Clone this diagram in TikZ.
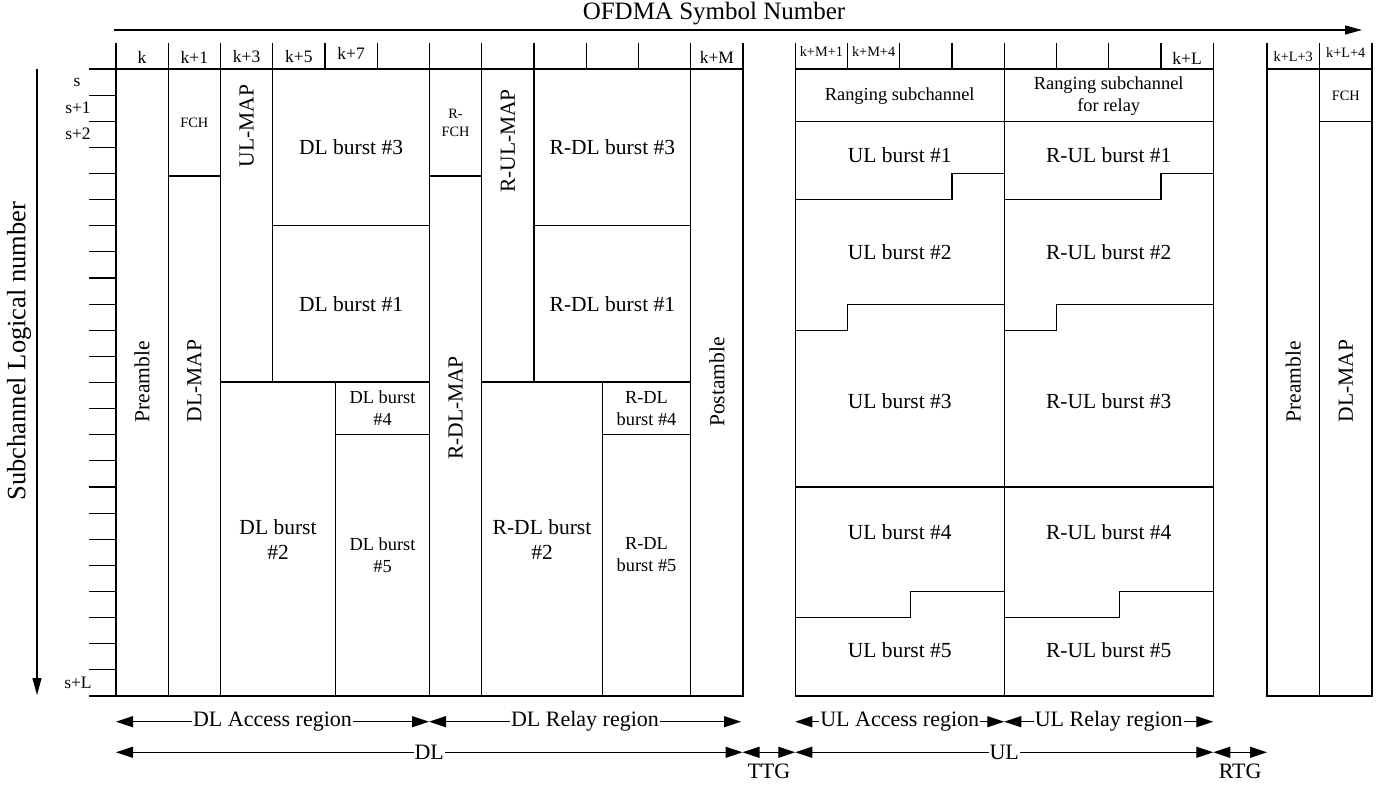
\documentclass[tikz,border=0pt]{standalone}
\usepackage{fontspec}
\setmainfont{Liberation Serif}
\usetikzlibrary{arrows.meta}
\begin{document}
\begin{tikzpicture}[x=1pt,y=-1pt, line width=1.2pt,
  big/.style={font=\fontsize{21.5}{25}\selectfont, align=center, inner sep=0pt},
  mid/.style={font=\fontsize{18.4}{22}\selectfont, align=center, inner sep=0pt},
  hdr/.style={font=\fontsize{17.5}{20}\selectfont, inner sep=0pt},
  tiny/.style={font=\fontsize{14.3}{18}\selectfont, align=center, inner sep=0pt},
  vert/.style={big, rotate=90},
  dimarrow/.style={{Triangle[length=17pt,width=11pt]}-{Triangle[length=17pt,width=11pt]}},
  lab/.style={font=\fontsize{22}{25}\selectfont, fill=white, inner xsep=1pt, inner ysep=0pt},
  axisarrow/.style={-{Triangle[length=17pt,width=9pt]}},
]
\useasboundingbox (0,0) rectangle (1378,786);

% ---------- axes ----------
\coordinate (ox0) at (114,30);
\coordinate (ox1) at (1362,30);
\draw[axisarrow] (ox0) -- (ox1);
\node[font=\fontsize{25}{28}\selectfont, inner sep=0pt] (otitle) at (714,14) {OFDMA Symbol Number};

\coordinate (oy0) at (37,69);
\coordinate (oy1) at (37,695);
\draw[axisarrow] (oy0) -- (oy1);
\node[font=\fontsize{26.5}{30}\selectfont, rotate=90, inner sep=0pt] (ytitle) at (19,351) {Subchannel Logical number};

% row ticks
\foreach \i in {0,...,24}{
  \draw (89,69+\i*26.125) -- (116,69+\i*26.125);
}
\node[hdr] (rs)  at (77,82)  {s};
\node[hdr] (rs1) at (78,108) {s+1};
\node[hdr] (rs2) at (78,134) {s+2};
\node[hdr] (rsl) at (78,683) {s+L};

% ---------- header ticks ----------
\foreach \x in {116,168.25,220.5,272.75,325,377.25,429.5,481.75,534,586.25,638.5,690.75,743,
                795.25,847.5,899.75,952,1004.25,1056.5,1108.75,1161,1213.25,1267,1319.5,1372}{
  \draw (\x,43) -- (\x,69);
}
\node[hdr] (hk)   at (142,57)   {k};
\node[hdr] (hk1)  at (194.4,57) {k+1};
\node[hdr] (hk3)  at (246.6,57) {k+3};
\node[hdr] (hk5)  at (298.9,57) {k+5};
\node[hdr] (hk7)  at (351.1,53) {k+7};
\node[hdr] (hkm)  at (716.9,57) {k+M};
\node[tiny] (hkm1) at (821.4,52) {k+M+1};
\node[tiny] (hkm4) at (873.6,52) {k+M+4};
\node[hdr] (hkl)  at (1187.1,58) {k+L};
\node[tiny] (hkl3) at (1293.2,57) {k+L+3};
\node[tiny] (hkl4) at (1345.7,53) {k+L+4};

% ---------- DL blocks ----------
\draw (116,69) rectangle (168.25,696);
\draw (168.25,69) rectangle (220.5,176);
\draw (168.25,176) rectangle (220.5,696);
\draw (220.5,69) rectangle (272.75,382);
\draw (272.75,69) rectangle (429.5,225.75);
\draw (272.75,225.75) rectangle (429.5,382);
\draw (220.5,382) rectangle (335.5,696);
\draw (335.5,382) rectangle (429.5,434.5);
\draw (335.5,434.5) rectangle (429.5,696);
\draw (429.5,69) rectangle (481.75,176);
\draw (429.5,176) rectangle (481.75,696);
\draw (481.75,69) rectangle (534,382);
\draw (534,69) rectangle (690.75,225.75);
\draw (534,225.75) rectangle (690.75,382);
\draw (481.75,382) rectangle (602.3,696);
\draw (602.3,382) rectangle (690.75,434.5);
\draw (602.3,434.5) rectangle (690.75,696);
\draw (690.75,69) rectangle (743,696);

\node[vert] (pre)  at (142.1,382) {Preamble};
\node[tiny] (fch)  at (194.4,122.5) {FCH};
\node[vert] (dlmap) at (194.4,381) {DL-MAP};
\node[vert] (ulmap) at (246.6,126) {UL-MAP};
\node[big] (b3) at (351.1,147.5) {DL burst \#3};
\node[big] (b1) at (351.1,304) {DL burst \#1};
\node[big] (b2) at (278,540) {DL burst\\\#2};
\node[mid] (b4) at (382.5,408.5) {DL burst\\\#4};
\node[mid] (b5) at (382.5,555) {DL burst\\\#5};
\node[tiny] (rfch) at (455.6,122.5) {R-\\FCH};
\node[vert] (rdlmap) at (455.6,408) {R-DL-MAP};
\node[vert] (rulmap) at (507.9,141) {R-UL-MAP};
\node[big] (rb3) at (612.4,147.5) {R-DL burst \#3};
\node[big] (rb1) at (612.4,304) {R-DL burst \#1};
\node[big] (rb2) at (542,540) {R-DL burst\\\#2};
\node[mid] (rb4) at (646.5,408.5) {R-DL\\burst \#4};
\node[mid] (rb5) at (646.5,555) {R-DL\\burst \#5};
\node[vert] (post) at (716.9,382) {Postamble};

% ---------- UL blocks ----------
\draw (795.25,69) rectangle (1213.25,696);
\draw (1004.25,69) -- (1004.25,696);
\draw (795.25,121.25) -- (1213.25,121.25);
\draw (795.25,199.5) -- (952,199.5) -- (952,173.4) -- (1004.25,173.4);
\draw (1004.25,199.5) -- (1161,199.5) -- (1161,173.4) -- (1213.25,173.4);
\draw (795.25,330.25) -- (847.5,330.25) -- (847.5,304.1) -- (1004.25,304.1);
\draw (1004.25,330.25) -- (1056.5,330.25) -- (1056.5,304.1) -- (1213.25,304.1);
\draw (795.25,487) -- (1213.25,487);
\draw (795.25,617.6) -- (910.5,617.6) -- (910.5,591.5) -- (1004.25,591.5);
\draw (1004.25,617.6) -- (1119.5,617.6) -- (1119.5,591.5) -- (1213.25,591.5);

\node[mid] (rng)  at (899.7,96) {Ranging subchannel};
\node[mid] (rngr) at (1108.7,96) {Ranging subchannel\\for relay};
\node[big] (u1) at (899.7,155) {UL burst \#1};
\node[big] (u2) at (899.7,252) {UL burst \#2};
\node[big] (u3) at (899.7,401) {UL burst \#3};
\node[big] (u4) at (899.7,532) {UL burst \#4};
\node[big] (u5) at (899.7,650) {UL burst \#5};
\node[big] (ru1) at (1108.7,155) {R-UL burst \#1};
\node[big] (ru2) at (1108.7,252) {R-UL burst \#2};
\node[big] (ru3) at (1108.7,401) {R-UL burst \#3};
\node[big] (ru4) at (1108.7,532) {R-UL burst \#4};
\node[big] (ru5) at (1108.7,650) {R-UL burst \#5};

% ---------- next frame ----------
\draw (1267,69) rectangle (1372,696);
\draw (1319.5,69) -- (1319.5,696);
\draw (1319.5,121.25) -- (1372,121.25);
\node[vert] (pre2) at (1293.2,382) {Preamble};
\node[tiny] (fch2) at (1345.7,96) {FCH};
\node[vert] (dlmap2) at (1345.7,381) {DL-MAP};

% ---------- bottom dimension arrows ----------
\coordinate (a0) at (116,721.7);
\coordinate (a1) at (429,721.7);
\coordinate (a2) at (741,721.7);
\coordinate (u0) at (795.25,721.7);
\coordinate (ua) at (1004.25,721.7);
\coordinate (ub) at (1213.25,721.7);
\draw[dimarrow] (a0) -- (a1) node[midway, lab] (tdla) {DL Access region};
\draw[dimarrow] (a1) -- (a2) node[midway, lab] (tdlr) {DL Relay region};
\draw[dimarrow] (u0) -- (ua) node[midway, lab] (tula) {UL Access region};
\draw[dimarrow] (ua) -- (ub) node[midway, lab] (tulr) {UL Relay region};

\coordinate (d0) at (116,752.3);
\coordinate (d1) at (742.5,752.3);
\coordinate (d2) at (795.25,752.3);
\coordinate (d3) at (1213.25,752.3);
\coordinate (d4) at (1267,752.3);
\draw[dimarrow] (d0) -- (d1) node[midway, lab] (tdl) {DL};
\draw[dimarrow] (d1) -- (d2);
\draw[dimarrow] (d2) -- (d3) node[midway, lab] (tul) {UL};
\draw[dimarrow] (d3) -- (d4);
\node[font=\fontsize{22}{25}\selectfont, inner sep=0pt] (ttg) at (768.9,771) {TTG};
\node[font=\fontsize{22}{25}\selectfont, inner sep=0pt] (rtg) at (1240.1,771) {RTG};
\end{tikzpicture}
\end{document}
